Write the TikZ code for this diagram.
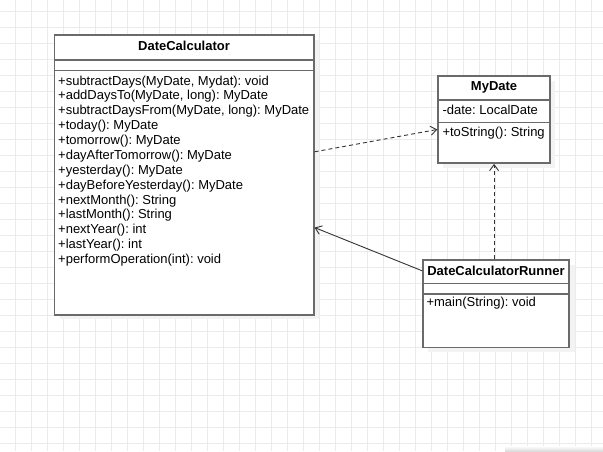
\documentclass[tikz,border=0pt]{standalone}
\usepackage{fontspec}
\setmainfont{Liberation Sans}
\usetikzlibrary{arrows.meta,calc}
\frenchspacing

\definecolor{gridline}{HTML}{EBEBEB}
\definecolor{boxline}{HTML}{6A6A6A}
\definecolor{wire}{HTML}{333333}
\definecolor{shade}{HTML}{F3F3F3}

\tikzset{
  umlbox/.style={draw=boxline, line width=1.6pt, fill=white, inner sep=0pt, anchor=north west},
  divider/.style={draw=boxline, line width=1.5pt},
  classtitle/.style={font=\fontsize{13}{15}\selectfont\bfseries, inner sep=0pt,
                     text height=9.5pt, text depth=2.5pt},
  member/.style={font=\fontsize{13}{15}\selectfont, inner sep=0pt, anchor=west,
                 text height=9.5pt, text depth=2.5pt},
  boxshadow/.style={fill=shade, draw=none},
  depend/.style={draw=wire, line width=0.9pt, dash pattern=on 4pt off 3pt,
                 -{Straight Barb[length=6pt,width=9pt]}},
  assoc/.style={draw=wire, line width=0.9pt, -{Straight Barb[length=6pt,width=9pt]}},
}

\begin{document}
\begin{tikzpicture}[x=1pt,y=-1pt]
  \useasboundingbox (0,0) rectangle (603,451);
  \fill[white] (0,0) rectangle (603,451);

  % background grid
  \foreach \gx in {15,31,...,591}
    \draw[gridline, line width=0.6pt] (\gx,0) -- (\gx,451);
  \foreach \gy in {11,27,...,443}
    \draw[gridline, line width=0.6pt] (0,\gy) -- (603,\gy);

  % page edge shadow
  \shade[top color=white, bottom color=gray!28] (505,446) rectangle (603,451);

  % soft shadows under the class boxes
  \fill[boxshadow] (59.5,40) rectangle (319,319);
  \fill[boxshadow] (443.3,81) rectangle (555.3,167.5);
  \fill[boxshadow] (428.3,265) rectangle (575,352);

  % class boxes
  \node[umlbox, minimum width=259.5pt, minimum height=280pt] (dc) at (53.5,34) {};
  \node[umlbox, minimum width=112pt, minimum height=87.3pt] (md) at (437.3,75) {};
  \node[umlbox, minimum width=145.7pt, minimum height=87.7pt] (rn) at (422.3,259) {};

  % compartment dividers
  \draw[divider] ($(dc.north west)+(0,26)$) -- ($(dc.north east)+(0,26)$);
  \draw[divider] ($(dc.north west)+(0,36.7)$) -- ($(dc.north east)+(0,36.7)$);
  \draw[divider] ($(md.north west)+(0,25)$) -- ($(md.north east)+(0,25)$);
  \draw[divider] ($(md.north west)+(0,47.3)$) -- ($(md.north east)+(0,47.3)$);
  \draw[divider] ($(rn.north west)+(0,24.3)$) -- ($(rn.north east)+(0,24.3)$);
  \draw[divider] ($(rn.north west)+(0,35)$) -- ($(rn.north east)+(0,35)$);

  % class names
  \node[classtitle] (dctitle) at ($(dc.north)+(0,13)$) {DateCalculator};
  \node[classtitle] (mdtitle) at ($(md.north)+(0,12)$) {MyDate};
  \node[classtitle] (rntitle) at ($(rn.north)+(0,12.7)$) {DateCalculatorRunner};

  % DateCalculator operations
  \foreach [count=\i from 0] \op in {
      {+subtractDays(MyDate, Mydat): void},
      {+addDaysTo(MyDate, long): MyDate},
      {+subtractDaysFrom(MyDate, long): MyDate},
      {+today(): MyDate},
      {+tomorrow(): MyDate},
      {+dayAfterTomorrow(): MyDate},
      {+yesterday(): MyDate},
      {+dayBeforeYesterday(): MyDate},
      {+nextMonth(): String},
      {+lastMonth(): String},
      {+nextYear(): int},
      {+lastYear(): int},
      {+performOperation(int): void}}
    \node[member] (dcop\i) at ($(dc.north west)+(4.5,47.6+14.87*\i)$) {\op};

  % MyDate members
  \node[member] (mdattr) at ($(md.north west)+(5,35.7)$) {-date: LocalDate};
  \node[member] (mdop) at ($(md.north west)+(5,58.3)$) {+toString(): String};

  % DateCalculatorRunner members
  \node[member] (rnop) at ($(rn.north west)+(4,44.3)$) {+main(String): void};

  % relationships
  \draw[depend] (dc.10.5) -- (md.190.8);
  \draw[assoc] (rn.156.85) -- (dc.-22.97);
  \draw[depend] (md.south |- rn.north) -- (md.south);
\end{tikzpicture}
\end{document}
